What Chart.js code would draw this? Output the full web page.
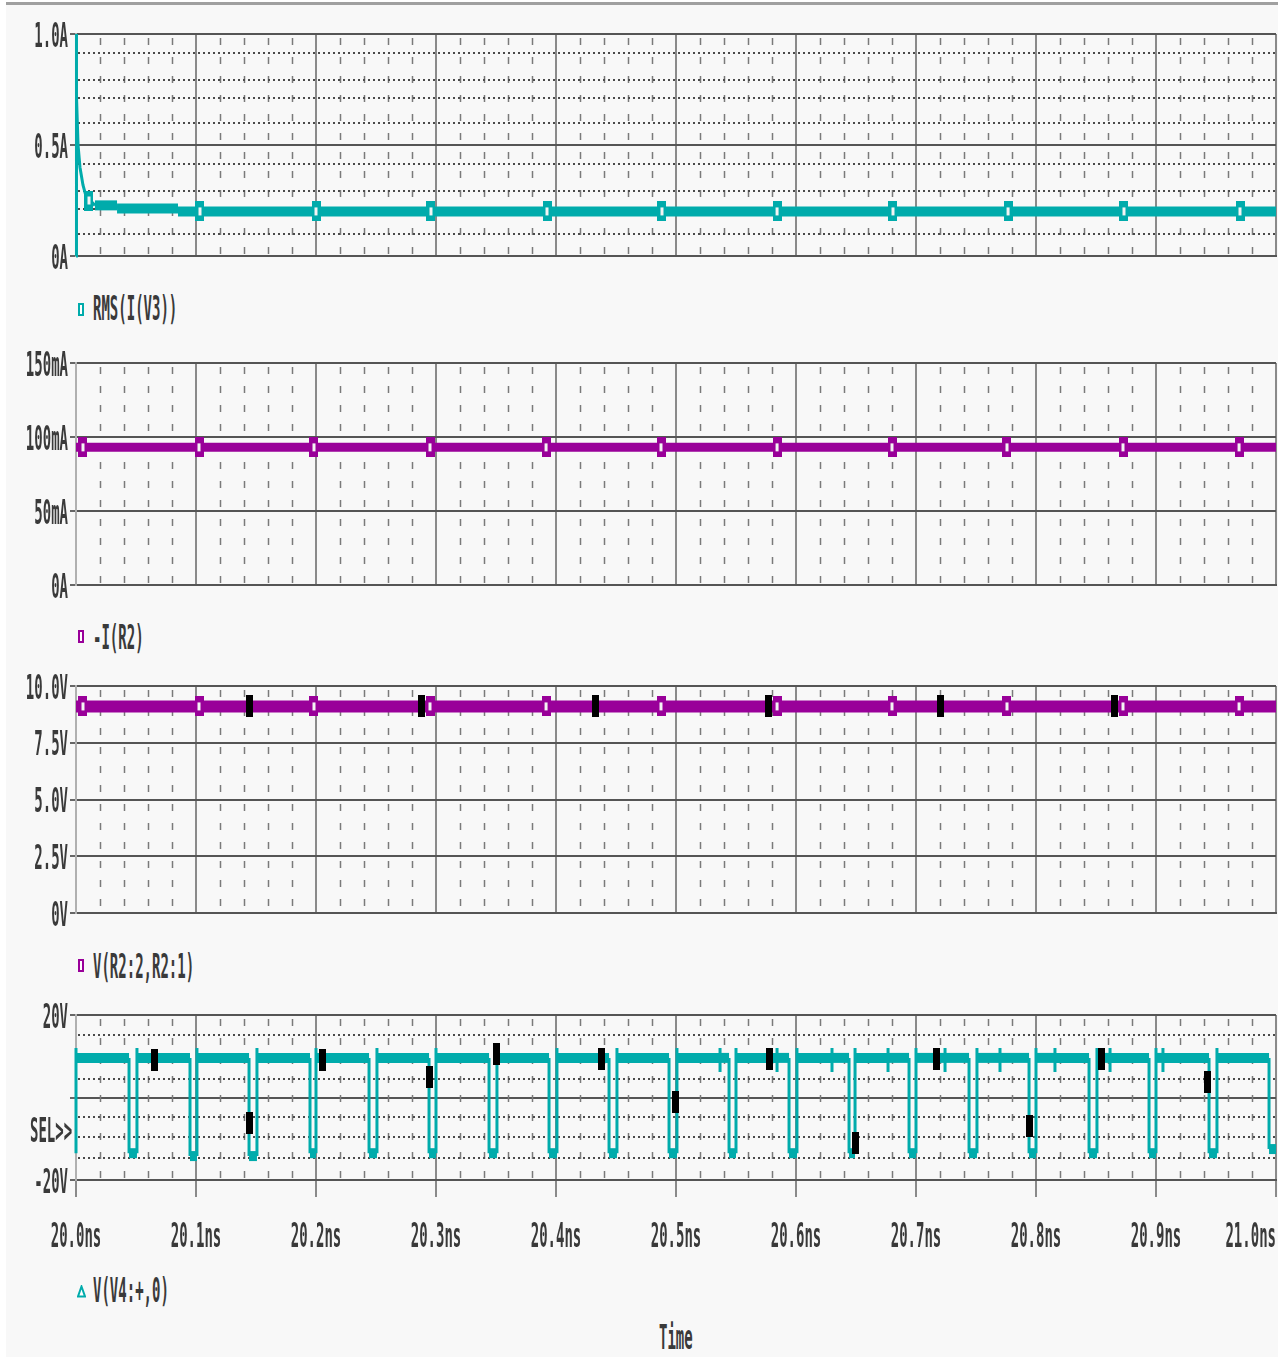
<!DOCTYPE html>
<html>
<head>
<meta charset="utf-8">
<title>PSpice waveforms</title>
<script src="https://cdn.jsdelivr.net/npm/chart.js@4.4.1/dist/chart.umd.min.js"></script>
<style>
html,body{margin:0;padding:0;background:#ffffff;}
body{position:relative;width:1287px;height:1357px;overflow:hidden;}
#bg{position:absolute;left:6px;top:2px;width:1272px;height:1355px;background:#f8f8f8;border-top:3px solid #a0a0a0;}
canvas{position:absolute;left:0;}
.t{position:absolute;font-family:'DejaVu Sans Mono','Liberation Mono',monospace;font-size:14px;font-weight:bold;line-height:16px;height:16px;color:#3a3a3a;white-space:pre;transform:scaleY(2.4);transform-origin:0 50%;}
.mk{position:absolute;width:2px;height:9px;border:2px solid;background:#fff;}
</style>
</head>
<body>
<div id="bg"></div>
<canvas id="c1" width="1287" height="266" style="top:10px"></canvas>
<canvas id="c2" width="1287" height="266" style="top:339px"></canvas>
<canvas id="c3" width="1287" height="271" style="top:662px"></canvas>
<canvas id="c4" width="1287" height="259" style="top:991px"></canvas>

<div class="mk" style="left:78px;top:303px;border-color:#00abab"></div>
<div class="t" style="left:93px;top:300px">RMS(I(V3))</div>
<div class="mk" style="left:78px;top:630px;border-color:#990099"></div>
<div class="t" style="left:93px;top:629px">-I(R2)</div>
<div class="mk" style="left:78px;top:959px;border-color:#990099"></div>
<div class="t" style="left:93px;top:958px">V(R2:2,R2:1)</div>
<svg style="position:absolute;left:77px;top:1285px" width="9" height="13"><polygon points="4.5,1.5 8,11.5 1,11.5" fill="#fff" stroke="#00abab" stroke-width="2"/></svg>
<div class="t" style="left:93px;top:1282px">V(V4:+,0)</div>
<div class="t" style="left:30px;top:1122px">SEL&gt;&gt;</div>
<div class="t" style="left:659px;top:1329px">Time</div>

<script>
const CYAN = '#00abab';
const MAGENTA = '#990099';
const FONT_FAMILY = "'DejaVu Sans Mono', 'Liberation Mono', monospace";
const TEXT_SCALE = 2.4;

// ---------- shared time axis ----------
const xTickValues = [20.0, 20.1, 20.2, 20.3, 20.4, 20.5, 20.6, 20.7, 20.8, 20.9, 21.0];
const xTickLabels = ['20.0ns', '20.1ns', '20.2ns', '20.3ns', '20.4ns', '20.5ns', '20.6ns', '20.7ns', '20.8ns', '20.9ns', '21.0ns'];

// ---------- panel 1 : RMS(I(V3)) ----------
const yTicks1 = [0, 0.5, 1.0];
const yLabels1 = ['0A', '0.5A', '1.0A'];
const dotted1 = [0.098, 0.21, 0.295, 0.415, 0.598, 0.71, 0.795, 0.915];
const time1 = [20.0, 20.0, 20.0008, 20.0017, 20.0033, 20.0058, 20.0083, 20.0158, 20.0342, 20.0342, 20.085, 20.085, 21.0];
const rmsIV3 = [0, 1.0, 0.72, 0.50, 0.40, 0.32, 0.27, 0.228, 0.228, 0.214, 0.214, 0.201, 0.201];
const markT1 = [20.0108, 20.1033, 20.2, 20.2958, 20.3925, 20.4883, 20.5842, 20.6808, 20.7767, 20.8733, 20.97];
const markV1 = [0.25, 0.201, 0.201, 0.201, 0.201, 0.201, 0.201, 0.201, 0.201, 0.201, 0.201];

// ---------- panel 2 : -I(R2) ----------
const yTicks2 = [0, 0.05, 0.10, 0.15];
const yLabels2 = ['0A', '50mA', '100mA', '150mA'];
const time2 = [20.0, 21.0];
const negIR2 = [0.093, 0.093];
const markT2 = [20.0058, 20.1025, 20.1983, 20.295, 20.3917, 20.4875, 20.5842, 20.68, 20.7758, 20.8725, 20.9692];
const markV2 = [0.093, 0.093, 0.093, 0.093, 0.093, 0.093, 0.093, 0.093, 0.093, 0.093, 0.093];

// ---------- panel 3 : V(R2:2,R2:1) ----------
const yTicks3 = [0, 2.5, 5.0, 7.5, 10.0];
const yLabels3 = ['0V', '2.5V', '5.0V', '7.5V', '10.0V'];
const time3 = [20.0, 21.0];
const vR2 = [9.1, 9.1];
const markT3 = [20.0058, 20.1025, 20.1983, 20.295, 20.3917, 20.4875, 20.5842, 20.68, 20.7758, 20.8725, 20.9692];
const markV3 = [9.1, 9.1, 9.1, 9.1, 9.1, 9.1, 9.1, 9.1, 9.1, 9.1, 9.1];
const barT3 = [20.1442, 20.2883, 20.4333, 20.5767, 20.7208, 20.865];
const barV3 = [9.1, 9.1, 9.1, 9.1, 9.1, 9.1];

// ---------- panel 4 : V(V4:+,0) ----------
const yTicks4 = [-20, 0, 20];
const yLabels4 = ['-20V', '', '20V'];
const dotted4 = [-14.7, -9.6, -4.7, 4.5, 15.2];
const v4High = 9.6;
const v4Peak = 12.0;
const v4StartLow = -13.5;
const v4GlitchLow = 6.2;
const pulseFall = [20.0442, 20.095, 20.1442, 20.195, 20.2442, 20.2942, 20.3442, 20.3942, 20.4442, 20.4942,
                   20.5442, 20.5942, 20.6442, 20.6942, 20.7442, 20.7942, 20.8442, 20.8942, 20.9442, 20.9942];
const pulseRise = [20.0508, 20.1008, 20.1508, 20.2, 20.2508, 20.3, 20.3508, 20.4008, 20.4508, 20.5008,
                   20.55, 20.6008, 20.6492, 20.7, 20.7508, 20.8, 20.8508, 20.9, 20.9508];
const pulseLow = [-13.5, -14.2, -14.2, -13.5, -13.5, -13.5, -13.5, -13.5, -13.5, -13.5,
                  -13.5, -13.5, -13.5, -13.5, -13.5, -13.5, -13.5, -13.5, -13.5, -12.5];
const glitchT = [20.5367, 20.5842, 20.63, 20.6767, 20.7242, 20.77, 20.8158, 20.8617, 20.9058];
const barT4 = [20.0658, 20.1442, 20.205, 20.2942, 20.35, 20.4383, 20.4992, 20.5775, 20.6492, 20.7167, 20.7942, 20.8542, 20.9433];
const barV4 = [9.1, -6.2, 9.1, 5.0, 10.5, 9.3, -1.1, 9.3, -11.0, 9.3, -6.9, 9.3, 3.8];

// assemble the V4 trace from the read edge times and levels
const time4 = [], vV4 = [];
function add4(t, v) { time4.push(t); vV4.push(v); }
add4(20.0, v4StartLow); add4(20.0, v4Peak); add4(20.0, v4High);
let gi = 0;
for (let i = 0; i < pulseFall.length; i++) {
  while (gi < glitchT.length && glitchT[gi] < pulseFall[i]) {
    add4(glitchT[gi], v4High); add4(glitchT[gi], v4Peak); add4(glitchT[gi], v4GlitchLow); add4(glitchT[gi], v4High);
    gi++;
  }
  add4(pulseFall[i], v4High); add4(pulseFall[i], pulseLow[i]);
  if (i < pulseRise.length) {
    add4(pulseRise[i], pulseLow[i]); add4(pulseRise[i], v4Peak); add4(pulseRise[i], v4High);
  } else {
    add4(21.0, pulseLow[i]);
  }
}

// ---------- helpers ----------
function pts(ts, vs) { return ts.map((t, i) => ({ x: t, y: vs[i] })); }

function boxImg(color) {
  const c = document.createElement('canvas'); c.width = 9; c.height = 20;
  const g = c.getContext('2d');
  g.fillStyle = color; g.fillRect(0, 0, 9, 20);
  g.fillStyle = '#f4f4f4'; g.fillRect(3, 6, 3, 8);
  return c;
}
function barImg() {
  const c = document.createElement('canvas'); c.width = 7; c.height = 22;
  const g = c.getContext('2d');
  g.fillStyle = '#000'; g.fillRect(0, 0, 7, 22);
  return c;
}
const BAR = barImg();

function tallLabels(scale, dy) {
  if (scale.$tall) return;
  scale.$tall = true;
  const orig = scale.drawLabels;
  scale.drawLabels = function (area) {
    const ctx = this.ctx;
    const ft = ctx.fillText;
    ctx.fillText = function (s, x, y, mw) {
      ctx.save(); ctx.translate(x, y + dy); ctx.scale(1, TEXT_SCALE);
      if (mw === undefined) ft.call(ctx, s, 0, 0); else ft.call(ctx, s, 0, 0, mw);
      ctx.restore();
    };
    try { orig.call(this, area); } finally { delete ctx.fillText; }
  };
}

function gridPlugin(dotted) {
  return {
    id: 'pspiceGrid',
    beforeDatasetsDraw(chart) {
      const { ctx, chartArea: a, scales: { x, y } } = chart;
      ctx.save();
      ctx.strokeStyle = '#7a7a7a'; ctx.lineWidth = 1.5;
      ctx.setLineDash([7, 12]); ctx.lineDashOffset = -3;
      const tv = x.ticks.map(t => t.value);
      for (let i = 0; i < tv.length - 1; i++) {
        for (let k = 1; k < 5; k++) {
          const px = Math.round(x.getPixelForValue(tv[i] + (tv[i + 1] - tv[i]) * k / 5)) + 0.5;
          ctx.beginPath(); ctx.moveTo(px, a.top + 1); ctx.lineTo(px, a.bottom); ctx.stroke();
        }
      }
      if (dotted.length) {
        ctx.setLineDash([2, 3]); ctx.lineDashOffset = 0;
        ctx.strokeStyle = '#4a4a4a'; ctx.lineWidth = 2;
        dotted.forEach(v => {
          const py = Math.round(y.getPixelForValue(v));
          ctx.beginPath(); ctx.moveTo(a.left + 2, py); ctx.lineTo(a.right, py); ctx.stroke();
        });
      }
      ctx.restore();
    }
  };
}

function traceDS(ts, vs, color, band) {
  return {
    data: pts(ts, vs), borderColor: color, backgroundColor: color, borderWidth: 3,
    pointRadius: 0, fill: false, tension: 0, clip: 6, order: 3,
    segment: { borderWidth: c => (c.p0.parsed.y === c.p1.parsed.y ? band : 3) }
  };
}
function markDS(ts, vs, img, order) {
  return {
    data: pts(ts, vs), showLine: false, pointStyle: img, pointRadius: 5, pointHoverRadius: 5,
    borderWidth: 0, order: order, clip: false
  };
}

function makeChart(id, cfg) {
  const showX = !!cfg.showX;
  const tickFont = { family: FONT_FAMILY, size: 14, weight: 'bold' };
  return new Chart(document.getElementById(id), {
    type: 'line',
    data: { datasets: cfg.datasets },
    options: {
      responsive: false, animation: false, devicePixelRatio: 1,
      layout: { padding: { top: 24, right: 11, bottom: cfg.padBottom, left: 0 } },
      plugins: { legend: { display: false }, tooltip: { enabled: false } },
      scales: {
        x: {
          type: 'linear', min: 20.0, max: 21.0,
          afterBuildTicks: s => { s.ticks = xTickValues.map(v => ({ value: v })); },
          afterFit: s => { s.height = showX ? 70 : 0; s.paddingLeft = 0; s.paddingRight = 0; tallLabels(s, 5); },
          ticks: {
            display: showX, autoSkip: false, maxRotation: 0, minRotation: 0, padding: 28,
            color: '#3a3a3a', font: tickFont,
            callback: (v) => {
              const j = xTickValues.indexOf(v);
              if (j < 0) return '';
              return j === xTickValues.length - 1 ? xTickLabels[j] + '      ' : xTickLabels[j];
            }
          },
          grid: {
            color: c => (c.index === 0 ? 'rgba(0,0,0,0)' : '#8a8a8a'), lineWidth: 2,
            drawTicks: showX, tickLength: 17, tickColor: '#8a8a8a', tickWidth: 2
          },
          border: { display: true, color: '#555', width: 2 }
        },
        y: {
          type: 'linear', min: cfg.yMin, max: cfg.yMax,
          afterBuildTicks: s => { s.ticks = cfg.yTicks.map(v => ({ value: v })); },
          afterFit: s => { s.width = 76; s.paddingTop = 0; s.paddingBottom = 0; tallLabels(s, 4); },
          ticks: {
            autoSkip: false, padding: 2, color: '#3a3a3a', font: tickFont,
            callback: v => { const j = cfg.yTicks.indexOf(v); return j < 0 ? '' : cfg.yLabels[j]; }
          },
          grid: { color: '#555', lineWidth: 2, tickLength: 6, tickColor: '#666', tickWidth: 2 },
          border: { display: true, color: '#b0b0b0', width: 2 }
        }
      }
    },
    plugins: [gridPlugin(cfg.dotted || [])]
  });
}

makeChart('c1', {
  yMin: 0, yMax: 1.0, yTicks: yTicks1, yLabels: yLabels1, dotted: dotted1, padBottom: 20,
  datasets: [traceDS(time1, rmsIV3, CYAN, 10), markDS(markT1, markV1, boxImg(CYAN), 2)]
});
makeChart('c2', {
  yMin: 0, yMax: 0.15, yTicks: yTicks2, yLabels: yLabels2, padBottom: 20,
  datasets: [traceDS(time2, negIR2, MAGENTA, 9), markDS(markT2, markV2, boxImg(MAGENTA), 2)]
});
makeChart('c3', {
  yMin: 0, yMax: 10.0, yTicks: yTicks3, yLabels: yLabels3, padBottom: 20,
  datasets: [traceDS(time3, vR2, MAGENTA, 12), markDS(markT3, markV3, boxImg(MAGENTA), 2), markDS(barT3, barV3, BAR, 1)]
});
makeChart('c4', {
  yMin: -20, yMax: 20, yTicks: yTicks4, yLabels: yLabels4, dotted: dotted4, padBottom: 0, showX: true,
  datasets: [traceDS(time4, vV4, CYAN, 10), markDS(barT4, barV4, BAR, 1)]
});
</script>
</body>
</html>
